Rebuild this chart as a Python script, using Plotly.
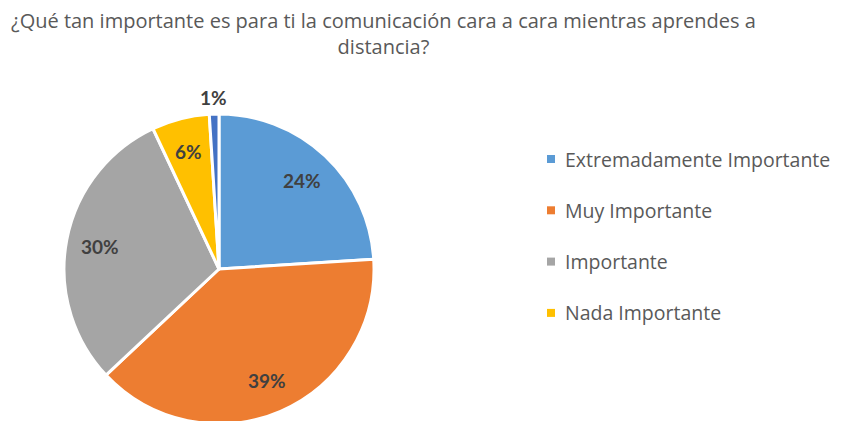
import math
import plotly.graph_objects as go

labels = ["Extremadamente Importante", "Muy Importante", "Importante", "Nada Importante", "Sin respuesta"]
values = [24, 39, 30, 6, 1]
colors = ["#5B9BD5", "#ED7D31", "#A5A5A5", "#FFC000", "#4472C4"]
legend_labels = labels[:4]
legend_colors = colors[:4]
title_text = "¿Qué tan importante es para ti la comunicación cara a cara mientras aprendes a<br>distancia?"

W, H = 841, 421
OFF = 8  # page body margin


def fx(X):
    return (X - OFF) / W


def fy(Y):
    return 1 - (Y - OFF) / H


# pie area in screen pixels
px0, px1, py0, py1 = 64, 374, 114, 424

fig = go.Figure()
fig.add_trace(go.Pie(
    labels=labels,
    values=values,
    sort=False,
    direction="clockwise",
    rotation=0,
    marker=dict(colors=colors, line=dict(color="white", width=3)),
    textinfo="none",
    showlegend=False,
    domain=dict(x=[fx(px0), fx(px1)], y=[max(0, fy(py1)), fy(py0)]),
    hoverinfo="label+percent",
))

annotations = []
cx = (px0 + px1) / 2
cy = (py0 + py1) / 2
R = 152
total = sum(values)
cum = 0
for v in values:
    mid = (cum + v / 2) / total * 2 * math.pi
    cum += v
    frac = 0.8 if v / total >= 0.03 else 1.13
    x = cx + frac * R * math.sin(mid)
    y = cy - frac * R * math.cos(mid)
    annotations.append(dict(text=f"<b>{round(v / total * 100)}%</b>", xref="paper", yref="paper",
                            x=fx(x), y=fy(y), xanchor="center", yanchor="middle",
                            showarrow=False,
                            font=dict(family="Lato, Open Sans, sans-serif", size=19, color="#404040")))

shapes = []
y0 = 159
step = 51.3
for i, (lab, col) in enumerate(zip(legend_labels, legend_colors)):
    yc = y0 + i * step
    shapes.append(dict(type="rect", xref="paper", yref="paper",
                       x0=fx(547), x1=fx(555),
                       y0=fy(yc + 4), y1=fy(yc - 4),
                       fillcolor=col, line=dict(width=0)))
    annotations.append(dict(text=lab, xref="paper", yref="paper",
                            x=fx(563), y=fy(yc), xanchor="left", yanchor="middle",
                            showarrow=False,
                            font=dict(family="Open Sans, sans-serif", size=19.5, color="#595959")))

annotations.append(dict(text=title_text, xref="paper", yref="paper",
                        x=fx(383), y=fy(33.5), xanchor="center", yanchor="middle",
                        showarrow=False,
                        font=dict(family="Open Sans, sans-serif", size=20, color="#595959")))

fig.update_layout(
    width=W, height=H,
    margin=dict(l=0, r=0, t=0, b=0),
    paper_bgcolor="white",
    plot_bgcolor="white",
    shapes=shapes,
    annotations=annotations,
)

fig.write_html("out.html")
